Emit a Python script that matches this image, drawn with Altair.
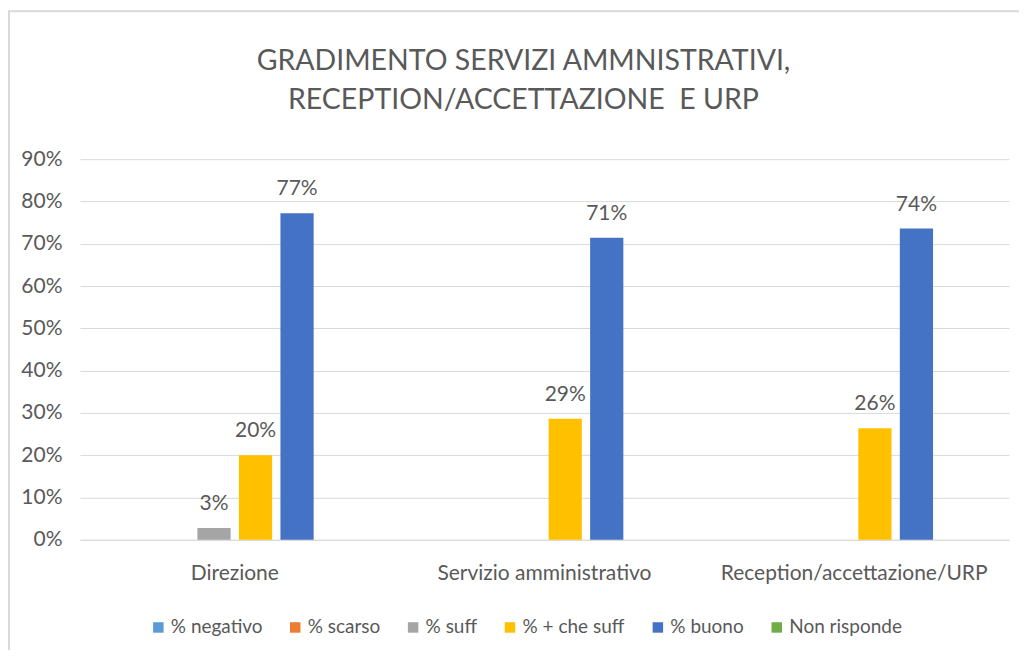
import altair as alt
import pandas as pd

title_lines = ["GRADIMENTO SERVIZI AMMNISTRATIVI,", "RECEPTION/ACCETTAZIONE\u00a0 E URP"]
categories = ["Direzione", "Servizio amministrativo", "Reception/accettazione/URP"]
series = ["% negativo", "% scarso", "% suff", "% + che suff", "% buono", "Non risponde"]
colors = ["#5B9BD5", "#ED7D31", "#A5A5A5", "#FFC000", "#4472C4", "#70AD47"]

negativo = [0.0, 0.0, 0.0]
scarso = [0.0, 0.0, 0.0]
suff = [0.028, 0.0, 0.0]
piu_che_suff = [0.20, 0.286, 0.264]
buono = [0.772, 0.714, 0.736]
non_risponde = [0.0, 0.0, 0.0]

values = [negativo, scarso, suff, piu_che_suff, buono, non_risponde]
rows = []
for s, vals in zip(series, values):
    for c, v in zip(categories, vals):
        rows.append({"categoria": c, "serie": s, "valore": v})
df = pd.DataFrame(rows)

FONT = "Lato, sans-serif"
TXT = "#595959"
W, H = 930, 381
FS = 21

base = alt.Chart(df)

bars = base.mark_bar().encode(
    x=alt.X("categoria:N", sort=categories, title=None,
            scale=alt.Scale(paddingInner=0, paddingOuter=0),
            axis=alt.Axis(labelAngle=0, ticks=False, domainColor="#D9D9D9",
                          labelPadding=23, labelFontSize=FS, labelColor=TXT,
                          labelFont=FONT, grid=False, labelLimit=0)),
    xOffset=alt.XOffset("serie:N", sort=series,
                        scale=alt.Scale(domain=series, paddingInner=0.2, paddingOuter=0.83)),
    y=alt.Y("valore:Q", title=None,
            scale=alt.Scale(domain=[0, 0.9], nice=False),
            axis=alt.Axis(format=".0%", values=[i / 10 for i in range(10)],
                          ticks=False, domain=False, gridColor="#D9D9D9",
                          labelPadding=18, labelFontSize=FS, labelColor=TXT,
                          labelFont=FONT)),
    color=alt.Color("serie:N", sort=series,
                    scale=alt.Scale(domain=series, range=colors),
                    legend=alt.Legend(title=None, orient="none", direction="horizontal",
                                      legendX=69, legendY=459, symbolType="square",
                                      symbolSize=110, symbolStrokeWidth=0,
                                      labelFontSize=19, labelColor=TXT, labelFont=FONT,
                                      columnPadding=23, labelOffset=3, labelLimit=0)),
)

labels = base.transform_filter("datum.valore > 0").mark_text(
    baseline="bottom", dy=-14, fontSize=FS, color=TXT, font=FONT
).encode(
    x=alt.X("categoria:N", sort=categories),
    xOffset=alt.XOffset("serie:N", sort=series),
    y=alt.Y("valore:Q"),
    text=alt.Text("valore:Q", format=".0%"),
)

title1 = alt.Chart(pd.DataFrame({"line": [title_lines[0]]})).mark_text(
    fontSize=28.5, font=FONT, color=TXT, baseline="middle", align="center"
).encode(x=alt.value(444), y=alt.value(-98), text="line:N")
title2 = alt.Chart(pd.DataFrame({"line": [title_lines[1]]})).mark_text(
    fontSize=28.5, font=FONT, color=TXT, baseline="middle", align="center"
).encode(x=alt.value(444), y=alt.value(-59), text="line:N")

border = alt.Chart(pd.DataFrame({"k": [0]})).mark_rect(
    fill=None, stroke="#D9D9D9", strokeWidth=2
).encode(
    x=alt.value(-71), x2=alt.value(960), y=alt.value(-148), y2=alt.value(520)
)

chart = alt.layer(border, title1, title2, bars, labels).properties(
    width=W, height=H,
    background="white",
    padding={"left": 72, "top": 151, "right": 10, "bottom": 110},
    autosize=alt.AutoSizeParams(type="none"),
).configure_view(strokeWidth=0, strokeOpacity=0
).configure_axisY(domain=False)

chart.save("out.html", embed_options={"renderer": "svg", "actions": False})
